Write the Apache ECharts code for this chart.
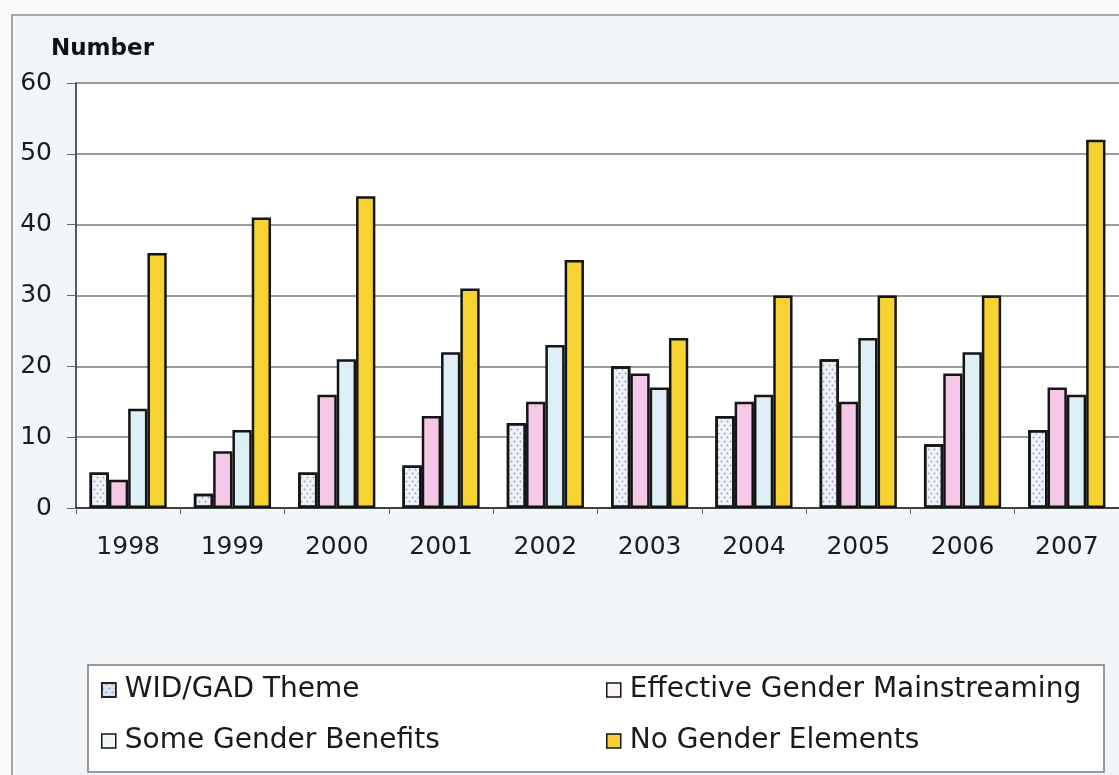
<!DOCTYPE html>
<html>
<head>
<meta charset="utf-8">
<title>Gender elements by year</title>
<script src="https://cdn.jsdelivr.net/npm/echarts@6/dist/echarts.min.js"></script>
<style>
  html, body { margin: 0; padding: 0; background: #f8fafb; }
  #chart { width: 1119px; height: 775px; }
</style>
</head>
<body>
<div id="chart"></div>
<script>
// Years on the category axis
const years = ['1998', '1999', '2000', '2001', '2002', '2003', '2004', '2005', '2006', '2007'];

// Number of projects per gender rating
const widGadTheme          = [5, 2, 5, 6, 12, 20, 13, 21, 9, 11];
const effectiveMainstream  = [4, 8, 16, 13, 15, 19, 15, 15, 19, 17];
const someGenderBenefits   = [14, 11, 21, 22, 23, 17, 16, 24, 22, 16];
const noGenderElements     = [36, 41, 44, 31, 35, 24, 30, 30, 30, 52];

// Series names
const seriesNames = [
  'WID/GAD Theme',
  'Effective Gender Mainstreaming',
  'Some Gender Benefits',
  'No Gender Elements'
];

// Value axis ticks
const yTicks = [0, 10, 20, 30, 40, 50, 60];

const FONT = '"DejaVu Sans", "Liberation Sans", Arial, sans-serif';
const EDGE = '#151515';

const chart = echarts.init(document.getElementById('chart'), null, { renderer: 'canvas' });

function barSeries(name, data, color, decal) {
  const itemStyle = { color: color, borderColor: EDGE, borderWidth: 2.5 };
  if (decal) itemStyle.decal = decal;
  return {
    name: name,
    type: 'bar',
    data: data,
    barGap: '0%',
    barCategoryGap: '26%',
    itemStyle: itemStyle,
    emphasis: { disabled: true }
  };
}

const legendText = {
  fontFamily: FONT,
  fontSize: 28,
  color: '#1a1a1a',
  lineHeight: 30,
  padding: [0, 0, 0, 4]
};

const legendCommon = {
  orient: 'vertical',
  top: 675,
  padding: 0,
  itemGap: 21,
  itemWidth: 14,
  itemHeight: 14,
  icon: 'rect',
  textStyle: legendText,
  itemStyle: { borderColor: EDGE, borderWidth: 1.5 }
};

const option = {
  backgroundColor: '#f8fafb',
  animation: false,
  title: {
    text: 'Number',
    left: 51,
    top: 38,
    padding: 0,
    textStyle: { fontFamily: FONT, fontSize: 23, fontWeight: 'bold', color: '#111' }
  },
  graphic: [
    {
      // outer frame of the figure
      type: 'rect',
      silent: true,
      z: -10,
      shape: { x: 12, y: 15, width: 1200, height: 900 },
      style: { fill: '#f2f6f9', stroke: '#8c8c8c', lineWidth: 1.5 }
    },
    {
      // legend box
      type: 'rect',
      silent: true,
      z: -5,
      shape: { x: 88, y: 665, width: 1016, height: 107 },
      style: { fill: '#ffffff', stroke: '#7a7a7a', lineWidth: 1.5 }
    }
  ],
  legend: [
    Object.assign({}, legendCommon, {
      left: 101,
      data: [
        { name: seriesNames[0], itemStyle: { color: '#dbe5f1' } },
        { name: seriesNames[2], itemStyle: { color: '#eef6f9' } }
      ]
    }),
    Object.assign({}, legendCommon, {
      left: 606,
      data: [
        { name: seriesNames[1], itemStyle: { color: '#fcf4fa' } },
        { name: seriesNames[3], itemStyle: { color: '#f5d134' } }
      ]
    })
  ],
  grid: {
    left: 76,
    top: 83,
    right: 0,
    bottom: 267,
    show: true,
    backgroundColor: '#ffffff',
    borderWidth: 0
  },
  xAxis: {
    type: 'category',
    data: years,
    axisLine: { show: true, lineStyle: { color: '#222', width: 1.5 } },
    axisTick: { show: true, length: 6, lineStyle: { color: '#666', width: 1 } },
    axisLabel: {
      fontFamily: FONT,
      fontSize: 25,
      color: '#1c1c1c',
      margin: 27
    }
  },
  yAxis: {
    type: 'value',
    min: yTicks[0],
    max: yTicks[yTicks.length - 1],
    interval: yTicks[1] - yTicks[0],
    axisLine: { show: true, lineStyle: { color: '#222', width: 1.5 } },
    axisTick: { show: true, inside: false, length: 9, lineStyle: { color: '#666', width: 1 } },
    axisLabel: {
      fontFamily: FONT,
      fontSize: 25,
      color: '#1c1c1c',
      margin: 24
    },
    splitLine: { show: true, lineStyle: { color: '#777c80', width: 1.5 } }
  },
  series: [
    // dotted fill for the WID/GAD bars
    barSeries(seriesNames[0], widGadTheme, '#eef2f8', {
      symbol: 'circle',
      symbolSize: 0.6,
      color: 'rgba(125, 145, 185, 0.8)',
      dashArrayX: [[3, 3], [0, 3, 3, 0]],
      dashArrayY: [3, 1],
      rotation: 0
    }),
    barSeries(seriesNames[1], effectiveMainstream, '#f5c8e8'),
    barSeries(seriesNames[2], someGenderBenefits, '#def0f5'),
    barSeries(seriesNames[3], noGenderElements, '#f6d232')
  ]
};

chart.setOption(option);
</script>
</body>
</html>
